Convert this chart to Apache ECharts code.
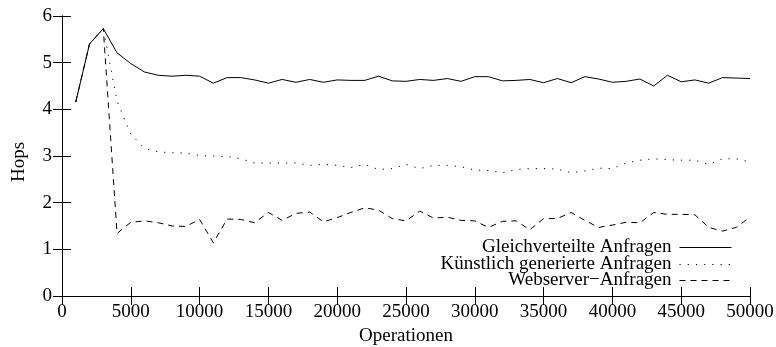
<!DOCTYPE html>
<html>
<head>
<meta charset="utf-8">
<script src="https://cdn.jsdelivr.net/npm/echarts@6/dist/echarts.min.js"></script>
<style>
html,body{margin:0;padding:0;background:#fff;}
#chart{width:776px;height:347px;}
</style>
</head>
<body>
<div id="chart"></div>
<script>
var operations = [1000,2000,3000,4000,5000,6000,7000,8000,9000,10000,
  11000,12000,13000,14000,15000,16000,17000,18000,19000,20000,
  21000,22000,23000,24000,25000,26000,27000,28000,29000,30000,
  31000,32000,33000,34000,35000,36000,37000,38000,39000,40000,
  41000,42000,43000,44000,45000,46000,47000,48000,49000,50000];

var gleichverteilt = [4.16,5.40,5.73,5.21,4.98,4.80,4.73,4.71,4.73,4.71,
  4.56,4.68,4.68,4.63,4.56,4.64,4.58,4.64,4.58,4.63,
  4.62,4.62,4.71,4.61,4.60,4.64,4.62,4.66,4.60,4.70,
  4.70,4.61,4.62,4.64,4.57,4.66,4.57,4.70,4.65,4.58,
  4.60,4.65,4.50,4.73,4.59,4.63,4.56,4.68,4.67,4.66];

var kuenstlich = [4.16,5.40,5.73,4.17,3.47,3.16,3.09,3.07,3.06,3.01,
  3.00,2.99,2.94,2.85,2.85,2.85,2.85,2.80,2.82,2.80,
  2.75,2.82,2.71,2.73,2.82,2.73,2.80,2.80,2.77,2.70,
  2.69,2.64,2.71,2.73,2.73,2.72,2.64,2.68,2.74,2.73,
  2.85,2.91,2.94,2.92,2.91,2.91,2.82,2.94,2.94,2.87];

var webserver = [4.16,5.40,5.73,1.34,1.58,1.61,1.57,1.50,1.49,1.64,
  1.14,1.65,1.64,1.57,1.79,1.62,1.77,1.80,1.59,1.68,
  1.79,1.89,1.84,1.66,1.61,1.82,1.67,1.69,1.62,1.61,
  1.47,1.60,1.61,1.42,1.66,1.66,1.79,1.62,1.47,1.52,
  1.58,1.57,1.79,1.75,1.75,1.74,1.47,1.39,1.47,1.69];

var seriesNames = ['Gleichverteilte Anfragen', 'Künstlich generierte Anfragen', 'Webserver\u2212Anfragen'];
var xTitle = 'Operationen';
var yTitle = 'Hops';

var FONT = 'Liberation Serif';
var FS = 19;
var black = '#000';

function pairs(vals){ return operations.map(function(x,i){ return [x, vals[i]]; }); }

var tickStyle = {show:true, inside:true, length:9, lineStyle:{color:black, width:1}};
var lineAxis = {show:true, lineStyle:{color:black, width:1}};

var chart = echarts.init(document.getElementById('chart'), null, {renderer:'canvas'});

var legendTops = [238, 255, 271];
var dashTypes = ['solid', [1.2, 7], [6, 5]];

var option = {
  animation:false,
  backgroundColor:'#fff',
  grid:{left:62, right:26, top:16, bottom:51, containLabel:false, outerBoundsMode:'none'},
  xAxis:[{
    type:'value', min:0, max:50000, interval:5000, position:'bottom',
    axisLine:lineAxis, axisTick:tickStyle, splitLine:{show:false},
    axisLabel:{color:black, fontFamily:FONT, fontSize:FS, margin:7,
      formatter:function(v){ return String(v); }},
    name:xTitle, nameLocation:'middle', nameGap:31,
    nameTextStyle:{color:black, fontFamily:FONT, fontSize:FS}
  },{
    type:'value', min:0, max:50000, interval:5000, position:'top',
    axisLine:lineAxis, axisTick:tickStyle, splitLine:{show:false},
    axisLabel:{show:false}
  }],
  yAxis:[{
    type:'value', min:0, max:6, interval:1, position:'left',
    axisLine:lineAxis, axisTick:tickStyle, splitLine:{show:false},
    axisLabel:{color:black, fontFamily:FONT, fontSize:FS, margin:10},
    name:yTitle, nameLocation:'middle', nameGap:33, nameRotate:90,
    nameTextStyle:{color:black, fontFamily:FONT, fontSize:FS, padding:[0,12,0,0]}
  },{
    type:'value', min:0, max:6, interval:1, position:'right',
    axisLine:lineAxis, axisTick:tickStyle, splitLine:{show:false},
    axisLabel:{show:false}
  }],
  legend: seriesNames.map(function(n,i){
    return {
      data:[n], orient:'vertical', align:'right', right:44, top:legendTops[i],
      itemWidth:52, itemHeight:13, padding:0, selectedMode:false,
      itemStyle:{opacity:0},
      lineStyle:{width:1, color:black, type:dashTypes[i]},
      textStyle:{color:black, fontFamily:FONT, fontSize:FS, lineHeight:17, padding:[0,3,0,0]}
    };
  }),
  series:[gleichverteilt, kuenstlich, webserver].map(function(vals,i){
    return {
      name:seriesNames[i], type:'line', xAxisIndex:0, yAxisIndex:0,
      data:pairs(vals), symbol:'none', smooth:false,
      lineStyle:{color:black, width:1, type:dashTypes[i]},
      itemStyle:{color:black}
    };
  })
};
chart.setOption(option);
</script>
</body>
</html>
